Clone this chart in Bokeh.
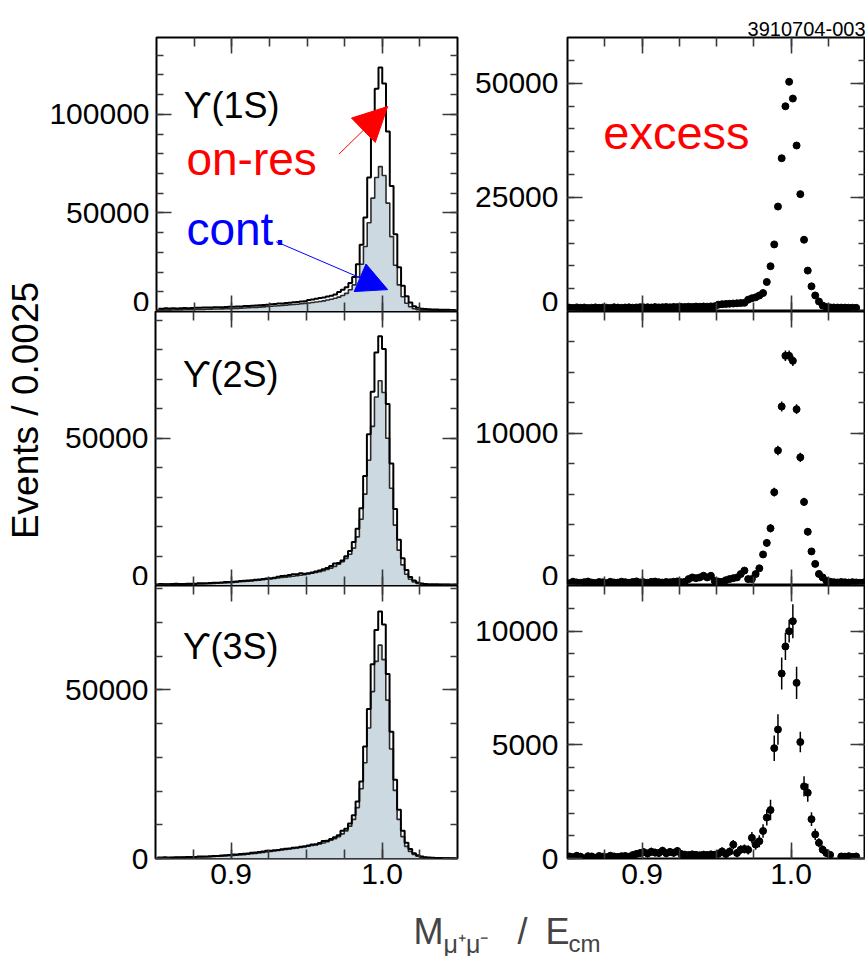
import math
import numpy as np
from bokeh.plotting import figure
from bokeh.models import (ColumnDataSource, FixedTicker, PrintfTickFormatter,
                          LinearAxis, Label, Arrow, NormalHead, Range1d,
                          CustomLabelingPolicy)
from bokeh.layouts import column, row
from bokeh.embed import file_html
from bokeh.resources import INLINE

nan = float("nan")

# ---------------- binning ----------------
bin_start = 0.85
bin_width = 0.0025
n_bins = 80
x_centers = bin_start + bin_width * (np.arange(n_bins) + 0.5)

x_major_ticks = [0.9, 1.0]
x_minor_ticks = [0.875, 0.9, 0.925, 0.95, 0.975, 1.0, 1.025]

# ---------------- Upsilon(1S) ----------------
cont_1s = [600, 650, 700, 700, 750, 800, 800, 850, 900, 950,
           1000, 1050, 1100, 1150, 1200, 1250, 1300, 1350, 1400, 1450,
           1500, 1600, 1700, 1800, 1900, 2000, 2100, 2200, 2350, 2500,
           2650, 2800, 2950, 3100, 3250, 3400, 3550, 3700, 3900, 4100,
           4300, 4550, 4800, 5100, 5400, 5800, 6200, 6700, 7300, 8100,
           9200, 11000, 13500, 17500, 24000, 33000, 45000, 57500, 68000, 73500,
           69000, 55000, 38000, 23500, 13500, 7500, 4200, 2400, 1400, 850,
           550, 380, 270, 200, 150, 110, 80, 60, 40, 30]
onres_1s = [1450, 1430, 1600, 1520, 1620, 1560, 1630, 1750, 1710, 1830,
            1840, 1840, 2020, 2010, 2000, 2120, 2210, 2180, 2280, 2400,
            2390, 2530, 2570, 2760, 2800, 2940, 3080, 3120, 3350, 3460,
            3660, 3780, 4000, 4100, 4330, 4440, 4650, 4760, 5020, 5250,
            5800, 6150, 6450, 6800, 7150, 7600, 8050, 8600, 9900, 11000,
            12300, 14500, 17540, 23960, 33910, 47690, 67980, 91060, 112940, 123800,
            115630, 91350, 63700, 39210, 22460, 13010, 7720, 4600, 2700, 1850,
            1450, 1260, 1130, 1050, 1000, 940, 900, 860, 800, 780]
excess_1s = [850, 780, 900, 820, 870, 760, 830, 900, 810, 880,
             840, 790, 920, 860, 800, 870, 910, 830, 880, 950,
             890, 930, 870, 960, 900, 940, 980, 920, 1000, 960,
             1010, 980, 1050, 1000, 1080, 1040, 1100, 1060, 1120, 1150,
             1500, 1600, 1650, 1700, 1750, 1800, 1850, 1900, 2600, 2900,
             3100, 3500, 4040, 6460, 9910, 14690, 22980, 33560, 44940, 50300,
             46630, 36350, 25700, 15710, 8960, 5510, 3520, 2200, 1300, 1000,
             900, 880, 860, 850, 850, 830, 820, 800, nan, nan]
err_1s = [150, 150, 150, 150, 150, 150, 150, 150, 150, 150,
          150, 150, 150, 150, 150, 150, 150, 150, 150, 150,
          160, 160, 160, 160, 160, 170, 170, 170, 170, 170,
          180, 180, 180, 180, 180, 180, 190, 190, 190, 190,
          200, 200, 200, 200, 210, 210, 210, 220, 230, 240,
          250, 260, 280, 300, 330, 360, 400, 440, 480, 500,
          490, 450, 400, 350, 300, 260, 230, 210, 200, 190,
          180, 180, 170, 170, 170, 160, 160, 160, 160, 160]

# ---------------- Upsilon(2S) ----------------
cont_2s = [200, 220, 240, 260, 280, 300, 330, 360, 390, 420,
           460, 500, 540, 590, 640, 700, 760, 830, 900, 980,
           1060, 1150, 1250, 1350, 1460, 1580, 1700, 1830, 1960, 2100,
           2250, 2400, 2550, 2700, 2850, 3000, 3150, 3300, 3500, 3700,
           3900, 4150, 4400, 4700, 5050, 5450, 5900, 6500, 7200, 8100,
           9200, 10600, 12700, 16500, 22500, 31000, 42500, 54000, 64000, 69500,
           65500, 50000, 33000, 20500, 12000, 7000, 3800, 2100, 1200, 700,
           420, 260, 170, 120, 90, 70, 50, 40, 30, 20]
onres_2s = [350, 470, 440, 440, 500, 560, 520, 530, 620, 630,
            620, 740, 740, 780, 890, 920, 940, 1060, 1170, 1180,
            1270, 1330, 1490, 1610, 1680, 1770, 1930, 2040, 2210, 2370,
            2470, 2640, 2970, 3230, 3330, 3530, 3790, 3830, 4140, 4010,
            4160, 4390, 4750, 5120, 5530, 5980, 6650, 7480, 7620, 8520,
            9950, 11730, 14740, 19300, 26260, 37130, 51370, 65760, 79090, 84590,
            80260, 61580, 41420, 25990, 15530, 9240, 5220, 2860, 1730, 1010,
            670, 480, 370, 350, 300, 260, 270, 240, 210, 220]
excess_2s = [150, 250, 200, 180, 220, 260, 190, 170, 230, 210,
             160, 240, 200, 190, 250, 220, 180, 230, 270, 200,
             210, 180, 240, 260, 220, 190, 230, 210, 250, 270,
             220, 240, 420, 530, 480, 530, 640, 530, 640, 310,
             260, 240, 350, 420, 480, 530, 750, 980, 420, 420,
             750, 1130, 2040, 2800, 3760, 6130, 8870, 11760, 15090, 15090,
             14760, 11580, 8420, 5490, 3530, 2240, 1420, 760, 530, 310,
             250, 220, 200, 230, 210, 190, 220, 200, 180, 200]
err_2s = [100, 100, 100, 100, 100, 100, 100, 100, 100, 100,
          100, 100, 100, 100, 100, 105, 105, 105, 105, 105,
          110, 110, 110, 110, 110, 115, 115, 115, 115, 115,
          120, 120, 120, 120, 125, 125, 125, 125, 130, 130,
          130, 130, 135, 135, 140, 150, 160, 170, 175, 180,
          190, 200, 220, 250, 270, 290, 310, 330, 340, 340,
          340, 320, 300, 270, 240, 210, 180, 150, 130, 120,
          110, 105, 100, 100, 100, 100, 100, 100, 100, 100]

# ---------------- Upsilon(3S) ----------------
cont_3s = [180, 200, 220, 240, 260, 280, 300, 330, 360, 390,
           420, 450, 490, 530, 570, 610, 660, 710, 760, 820,
           890, 970, 1060, 1160, 1270, 1390, 1520, 1660, 1800, 1950,
           2100, 2250, 2400, 2550, 2700, 2850, 3000, 3150, 3300, 3450,
           3650, 3850, 4050, 4300, 4600, 5000, 5400, 5900, 6500, 7300,
           8200, 9600, 11600, 15100, 20700, 28400, 38700, 49500, 58500, 63300,
           59000, 47000, 32500, 20200, 11600, 6500, 3600, 2100, 1200, 700,
           420, 260, 170, 120, 90, 70, 50, 40, 30, 20]
onres_3s = [270, 260, 340, 320, 260, 380, 390, 360, 470, 470,
            480, 570, 580, 600, 670, 720, 740, 860, 960, 1060,
            1170, 1190, 1360, 1420, 1510, 1730, 1750, 1950, 2050, 2280,
            2300, 2420, 2550, 2730, 2860, 2990, 3170, 3300, 3480, 3610,
            3860, 4160, 4250, 4600, 5210, 5240, 5790, 6320, 6880, 8210,
            8810, 10360, 12810, 16900, 22830, 33250, 44370, 57630, 67820, 73290,
            69430, 54720, 37620, 23370, 14490, 8230, 4660, 2790, 1590, 940,
            580, 400, 300, 210, 170, 170, 120, 130, 100, 90]
excess_3s = [90, 60, 120, 80, 0, 100, 90, 30, 110, 80,
             60, 120, 90, 70, 100, 110, 80, 150, 200, 240,
             280, 220, 300, 260, 240, 340, 230, 290, 250, 330,
             200, 170, 150, 180, 160, 140, 170, 150, 180, 160,
             210, 310, 200, 300, 610, 240, 390, 420, 380, 910,
             610, 760, 1210, 1800, 2130, 4850, 5670, 8130, 9320, 9990,
             10430, 7720, 5120, 3170, 2890, 1730, 1060, 690, 390, 240,
             160, nan, nan, 90, 80, 100, 70, 90, nan, nan]
err_3s = [150, 145, 155, 150, 140, 150, 150, 145, 155, 150,
          150, 155, 150, 150, 155, 155, 150, 160, 165, 170,
          170, 165, 175, 170, 170, 180, 170, 175, 170, 180,
          165, 160, 160, 165, 160, 160, 165, 160, 165, 165,
          170, 180, 175, 180, 200, 180, 190, 200, 200, 250,
          230, 260, 300, 350, 450, 560, 670, 700, 600, 500,
          745, 710, 450, 450, 400, 300, 250, 200, 180, 160,
          150, 150, 150, 150, 150, 150, 150, 150, 150, 150]

resonance_labels = ["\u03d2(1S)", "\u03d2(2S)", "\u03d2(3S)"]

# ---------------- styling ----------------
SANS = "Liberation Sans"
FILL = "#ccd9e1"
TICK_COLOR = "#3a3a3a"
TICK_FONT_SIZE = "30px"

YLAB_W = 46
LEFT_W, RIGHT_W = 413, 406
LEFT_BL, RIGHT_BL = 109, 108
ROW_H = [311, 274, 315]
ROW_BT = [37, 0, 0]
ROW_BB = [0, 0, 42]
XLAB_H = 56
TOTAL_H = sum(ROW_H) + XLAB_H


def style_axis(ax, tin_major, tin_minor, show, standoff=6):
    ax.axis_line_color = None
    ax.major_tick_in = tin_major
    ax.major_tick_out = 0
    ax.minor_tick_in = tin_minor
    ax.minor_tick_out = 0
    ax.major_tick_line_color = TICK_COLOR
    ax.minor_tick_line_color = TICK_COLOR
    ax.major_tick_line_width = 1.6
    ax.minor_tick_line_width = 1.6
    if show:
        ax.major_label_text_font = SANS
        ax.major_label_text_font_size = TICK_FONT_SIZE
        ax.major_label_text_color = "black"
        ax.major_label_standoff = standoff
    else:
        ax.major_label_text_font_size = "0px"
        ax.major_label_standoff = 0
        ax.major_label_policy = CustomLabelingPolicy(code="return []")


def make_panel(r, left, ymax, ymajor, yminor):
    w = LEFT_W if left else RIGHT_W
    p = figure(width=w, height=ROW_H[r],
               x_range=Range1d(bin_start, bin_start + n_bins * bin_width),
               y_range=Range1d(0, ymax),
               output_backend="svg", toolbar_location=None,
               x_axis_location=None, y_axis_location=None,
               min_border_left=LEFT_BL if left else RIGHT_BL,
               min_border_right=2 if left else 0,
               min_border_top=ROW_BT[r], min_border_bottom=ROW_BB[r])
    p.xgrid.visible = False
    p.ygrid.visible = False
    p.outline_line_color = "black"
    p.outline_line_width = 2
    p.background_fill_color = "white"
    p.border_fill_color = "white"

    xb = LinearAxis(ticker=FixedTicker(ticks=x_major_ticks, minor_ticks=x_minor_ticks),
                    formatter=PrintfTickFormatter(format="%.1f"))
    xa = LinearAxis(ticker=FixedTicker(ticks=x_major_ticks, minor_ticks=x_minor_ticks))
    yl = LinearAxis(ticker=FixedTicker(ticks=ymajor, minor_ticks=yminor),
                    formatter=PrintfTickFormatter(format="%d"))
    yr = LinearAxis(ticker=FixedTicker(ticks=ymajor, minor_ticks=yminor))
    style_axis(xb, 16, 9, r == 2, standoff=5)
    style_axis(xa, 16, 9, False)
    style_axis(yl, 15, 7, True, standoff=7 if left else 9)
    style_axis(yr, 15, 7, False)
    p.add_layout(xb, "below")
    p.add_layout(xa, "above")
    p.add_layout(yl, "left")
    p.add_layout(yr, "right")
    return p


def hist_panel(r, ymax, ymajor, yminor, cont, onres, label, label_y):
    p = make_panel(r, True, ymax, ymajor, yminor)
    src = ColumnDataSource(dict(x=x_centers, cont=cont, on=onres))
    p.varea_step(x="x", y1=0, y2="cont", step_mode="center", source=src,
                 fill_color=FILL)
    p.step(x="x", y="cont", mode="center", source=src, line_color="#2b2b2b",
           line_width=1.6)
    p.step(x="x", y="on", mode="center", source=src, line_color="black",
           line_width=2)
    p.add_layout(Label(x=0.868, y=label_y, text=label, text_font=SANS,
                       text_font_size="36px", text_color="black",
                       text_baseline="alphabetic"))
    return p


def excess_panel(r, ymax, ymajor, yminor, exc, err):
    p = make_panel(r, False, ymax, ymajor, yminor)
    exc_a = np.array(exc, dtype=float)
    err_a = np.array(err, dtype=float)
    src = ColumnDataSource(dict(x=x_centers, y=exc_a, lo=exc_a - err_a, hi=exc_a + err_a))
    p.segment(x0="x", y0="lo", x1="x", y1="hi", source=src, line_color="black",
              line_width=1.5)
    p.scatter(x="x", y="y", source=src, size=7, marker="circle",
              fill_color="black", line_color="black")
    return p


p11 = hist_panel(0, 139000, [0, 50000, 100000], list(range(0, 139000, 10000)),
                 cont_1s, onres_1s, resonance_labels[0], 104500)
p12 = excess_panel(0, 60000, [0, 25000, 50000], list(range(0, 60000, 5000)),
                   excess_1s, err_1s)
p21 = hist_panel(1, 93000, [0, 50000], list(range(0, 93000, 10000)),
                 cont_2s, onres_2s, resonance_labels[1], 71600)
p22 = excess_panel(1, 18000, [0, 10000], list(range(0, 18000, 2000)),
                   excess_2s, err_2s)
p31 = hist_panel(2, 81000, [0, 50000], list(range(0, 81000, 10000)),
                 cont_3s, onres_3s, resonance_labels[2], 62900)
p32 = excess_panel(2, 12000, [0, 5000, 10000], list(range(0, 12000, 1000)),
                   excess_3s, err_3s)

# annotations on the Upsilon(1S) panel
p11.add_layout(Label(x=0.8699, y=77300, text="on-res", text_font=SANS,
                     text_font_size="46px", text_color="#ff0000",
                     text_baseline="alphabetic"))
p11.add_layout(Label(x=0.8699, y=42000, text="cont.", text_font=SANS,
                     text_font_size="46px", text_color="#0000ff",
                     text_baseline="alphabetic"))
p11.add_layout(Arrow(x_start=0.9712, y_start=79800, x_end=1.0036, y_end=104000,
                     line_color="#ff0000", line_width=1,
                     end=NormalHead(size=34, fill_color="#ff0000", line_color="#ff0000")))
p11.add_layout(Arrow(x_start=0.9295, y_start=35400, x_end=1.0036, y_end=11100,
                     line_color="#0000ff", line_width=1,
                     end=NormalHead(size=30, fill_color="#0000ff", line_color="#0000ff")))

p12.add_layout(Label(x=0.874, y=39100, text="excess", text_font=SANS,
                     text_font_size="47px", text_color="#ff0000",
                     text_baseline="alphabetic"))
p12.title.text = "3910704-003"
p12.title.align = "right"
p12.title.text_font = SANS
p12.title.text_font_size = "20px"
p12.title.text_font_style = "normal"
p12.title.text_color = "black"
p12.title.standoff = 3

# common y-axis title in a narrow strip on the left
ylab = figure(width=YLAB_W, height=TOTAL_H, x_range=Range1d(0, YLAB_W),
              y_range=Range1d(0, TOTAL_H), output_backend="svg",
              toolbar_location=None, x_axis_location=None, y_axis_location=None,
              min_border=0)
ylab.xgrid.visible = False
ylab.ygrid.visible = False
ylab.outline_line_color = None
ylab.add_layout(Label(x=25, y=TOTAL_H - 410, x_units="screen", y_units="screen",
                      text="Events / 0.0025", angle=math.pi / 2, text_font=SANS,
                      text_font_size="37px", text_color="black",
                      text_align="center", text_baseline="middle"))

# common x-axis title
XW = LEFT_W + RIGHT_W
xlab = figure(width=XW, height=XLAB_H, x_range=Range1d(0, XW),
              y_range=Range1d(0, XLAB_H), output_backend="svg", toolbar_location=None,
              x_axis_location=None, y_axis_location=None, min_border=0)
xlab.xgrid.visible = False
xlab.ygrid.visible = False
xlab.outline_line_color = None
xlab.add_layout(Label(x=413 - YLAB_W, y=25, x_units="screen", y_units="screen", text="M",
                      text_font=SANS, text_font_size="36px",
                      text_baseline="alphabetic"))
xlab.add_layout(Label(x=443 - YLAB_W, y=13, x_units="screen", y_units="screen",
                      text="\u03bc\u207a\u03bc\u207b", text_font=SANS,
                      text_font_size="25px", text_baseline="alphabetic"))
xlab.add_layout(Label(x=517 - YLAB_W, y=25, x_units="screen", y_units="screen", text="/",
                      text_font=SANS, text_font_size="36px",
                      text_baseline="alphabetic"))
xlab.add_layout(Label(x=545 - YLAB_W, y=25, x_units="screen", y_units="screen", text="E",
                      text_font=SANS, text_font_size="36px",
                      text_baseline="alphabetic"))
xlab.add_layout(Label(x=568 - YLAB_W, y=13, x_units="screen", y_units="screen", text="cm",
                      text_font=SANS, text_font_size="24px",
                      text_baseline="alphabetic"))

layout = row(ylab, column(row(p11, p12), row(p21, p22), row(p31, p32), xlab))

open("out.html", "w").write(file_html(layout, INLINE))
